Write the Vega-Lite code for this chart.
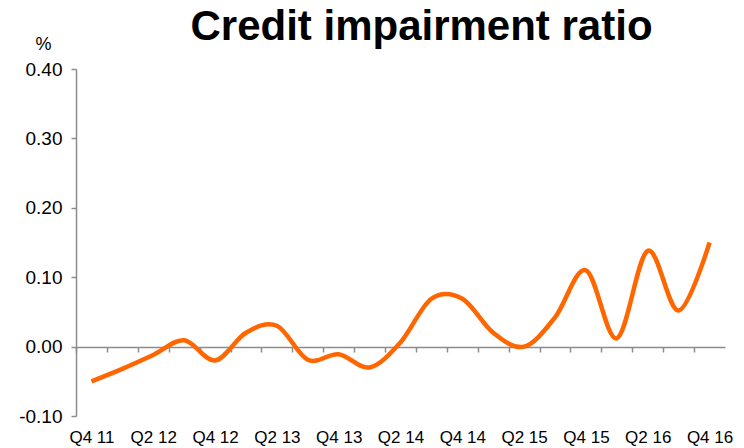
{
  "$schema": "https://vega.github.io/schema/vega-lite/v6.json",
  "width": 649,
  "height": 347,
  "autosize": {"type": "none"},
  "padding": {"left": 76, "top": 69, "right": 19, "bottom": 32},
  "background": "white",
  "config": {
    "view": {"stroke": null},
    "font": "Liberation Sans"
  },
  "title": {
    "text": "Credit impairment ratio",
    "fontSize": 42,
    "fontWeight": "bold",
    "font": "Liberation Sans",
    "color": "#000000",
    "anchor": "middle",
    "frame": "group",
    "baseline": "alphabetic",
    "offset": -47,
    "dx": 21
  },
  "data": {
    "values": [
      {"q": "Q4 11", "v": -0.05},
      {"q": "Q1 12", "v": -0.032},
      {"q": "Q2 12", "v": -0.012},
      {"q": "Q3 12", "v": 0.009},
      {"q": "Q4 12", "v": -0.02},
      {"q": "Q1 13", "v": 0.02},
      {"q": "Q2 13", "v": 0.03},
      {"q": "Q3 13", "v": -0.019},
      {"q": "Q4 13", "v": -0.011},
      {"q": "Q1 14", "v": -0.03},
      {"q": "Q2 14", "v": 0.006},
      {"q": "Q3 14", "v": 0.069},
      {"q": "Q4 14", "v": 0.069},
      {"q": "Q1 15", "v": 0.02},
      {"q": "Q2 15", "v": 0.0},
      {"q": "Q3 15", "v": 0.042},
      {"q": "Q4 15", "v": 0.11},
      {"q": "Q1 16", "v": 0.012},
      {"q": "Q2 16", "v": 0.138},
      {"q": "Q3 16", "v": 0.052},
      {"q": "Q4 16", "v": 0.15}
    ]
  },
  "mark": {
    "type": "line",
    "color": "#FF6600",
    "strokeWidth": 4.5,
    "interpolate": "cardinal",
    "clip": false
  },
  "encoding": {
    "x": {
      "field": "q",
      "type": "ordinal",
      "sort": null,
      "scale": {"type": "point", "padding": 0.5},
      "axis": {
        "title": null,
        "offset": -69,
        "domainColor": "#8c8c8c",
        "domainWidth": 1.5,
        "tickColor": "#8c8c8c",
        "tickWidth": 1.5,
        "tickSize": 5,
        "tickOffset": -15.45,
        "labelOffset": 15.45,
        "labelAngle": 0,
        "labelFontSize": 17,
        "labelColor": "#000000",
        "labelPadding": 77,
        "labelFont": "Liberation Sans",
        "labelOverlap": false,
        "labelExpr": "(indexof(datum.value,'Q4')==0 || indexof(datum.value,'Q2')==0) ? datum.value : ''"
      }
    },
    "y": {
      "field": "v",
      "type": "quantitative",
      "scale": {"domain": [-0.1, 0.4], "nice": false, "zero": false},
      "axis": {
        "title": "%",
        "titleAngle": 0,
        "titleX": -33,
        "titleY": -20,
        "titleAlign": "center",
        "titleBaseline": "alphabetic",
        "titleFontSize": 18,
        "titleFontWeight": "normal",
        "titleColor": "#000000",
        "titleFont": "Liberation Sans",
        "values": [-0.1, 0, 0.1, 0.2, 0.3, 0.4],
        "labelExpr": "replace(format(datum.value, '.2f'), '\u2212', '-')",
        "grid": false,
        "domainColor": "#8c8c8c",
        "domainWidth": 1.5,
        "tickColor": "#8c8c8c",
        "tickWidth": 1.5,
        "tickSize": 5,
        "labelFontSize": 19,
        "labelColor": "#000000",
        "labelPadding": 9,
        "labelFont": "Liberation Sans"
      }
    }
  }
}
